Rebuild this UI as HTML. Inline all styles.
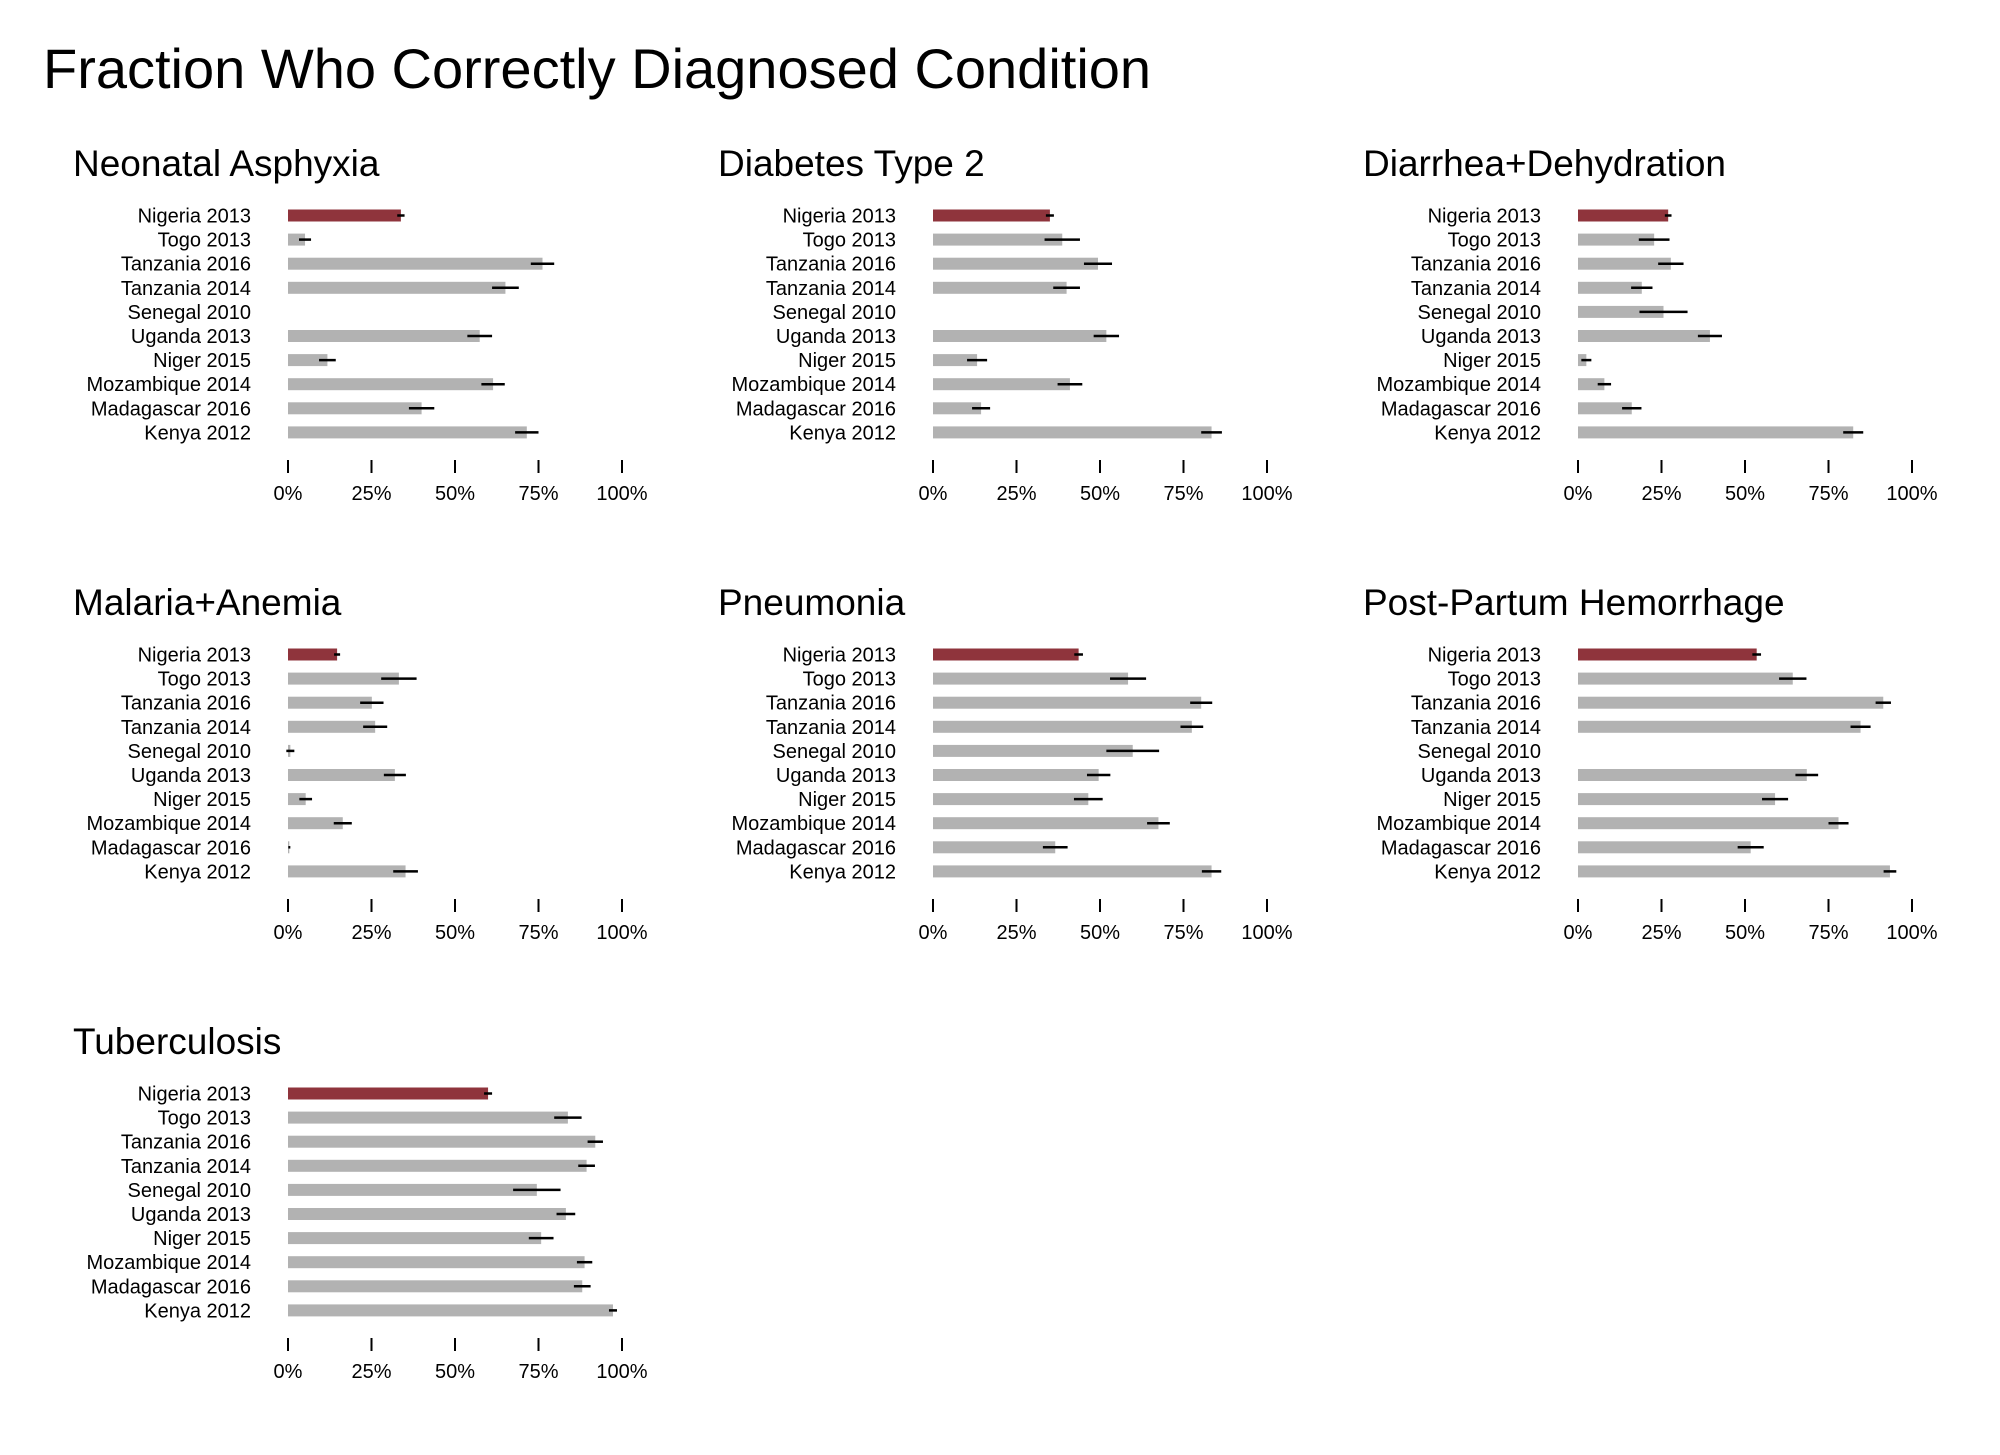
<!DOCTYPE html>
<html><head><meta charset="utf-8">
<style>
html,body{margin:0;padding:0;background:#fff;}
svg{display:block;font-family:"Liberation Sans",Arial,sans-serif;}
</style></head>
<body>
<svg id="chart" width="2000" height="1455" viewBox="0 0 2000 1455" xmlns="http://www.w3.org/2000/svg">
<rect x="0" y="0" width="2000" height="1455" fill="#fff"/>
<text x="43" y="88" font-size="56" fill="#000">Fraction Who Correctly Diagnosed Condition</text>
</svg>
<script>
const categories = ["Nigeria 2013","Togo 2013","Tanzania 2016","Tanzania 2014","Senegal 2010","Uganda 2013","Niger 2015","Mozambique 2014","Madagascar 2016","Kenya 2012"];
const panelTitles = ["Neonatal Asphyxia","Diabetes Type 2","Diarrhea+Dehydration","Malaria+Anemia","Pneumonia","Post-Partum Hemorrhage","Tuberculosis"];
const tickValues = [0,25,50,75,100];
const tickLabels = ["0%","25%","50%","75%","100%"];
const neonatalValues = [33.8,5.1,76.2,65.1,null,57.4,11.8,61.4,40,71.5];
const neonatalErr = [1.1,1.8,3.5,4,null,3.7,2.5,3.5,3.8,3.5];
const diabetesValues = [35,38.7,49.4,40,null,51.9,13.2,41,14.4,83.4];
const diabetesErr = [1.2,5.3,4.2,4,null,3.8,3,3.7,2.7,3.1];
const diarrheaValues = [27,22.8,27.8,19.1,25.6,39.5,2.5,7.9,16.1,82.4];
const diarrheaErr = [1,4.6,3.8,3.2,7.2,3.6,1.5,2,2.9,3];
const malariaValues = [14.7,33.2,25.1,26.1,0.7,32,5.3,16.4,0.4,35.2];
const malariaErr = [0.9,5.3,3.5,3.6,1.2,3.3,1.9,2.7,0.3,3.7];
const pneumoniaValues = [43.6,58.4,80.3,77.5,59.8,49.6,46.5,67.5,36.6,83.4];
const pneumoniaErr = [1.3,5.4,3.3,3.4,7.9,3.5,4.3,3.4,3.7,2.9];
const pphValues = [53.5,64.3,91.4,84.6,null,68.5,59,78,51.7,93.4];
const pphErr = [1.3,4.1,2.3,3,null,3.4,3.9,3,3.9,1.9];
const tbValues = [59.9,83.8,92,89.4,74.5,83.2,75.8,88.8,88.1,97.3];
const tbErr = [1.2,4.1,2.3,2.5,7.1,2.8,3.7,2.3,2.5,1.2];

const panelValues = [neonatalValues,diabetesValues,diarrheaValues,malariaValues,pneumoniaValues,pphValues,tbValues];
const panelErrs = [neonatalErr,diabetesErr,diarrheaErr,malariaErr,pneumoniaErr,pphErr,tbErr];
const panelSlugs = ["neonatal-asphyxia","diabetes-type-2","diarrhea-dehydration","malaria-anemia","pneumonia","post-partum-hemorrhage","tuberculosis"];

const NS = "http://www.w3.org/2000/svg";
const svg = document.getElementById("chart");
function mk(tag, attrs, parent){
  const e = document.createElementNS(NS, tag);
  for (const k in attrs) e.setAttribute(k, attrs[k]);
  parent.appendChild(e);
  return e;
}
const COL_DX = 645, ROW_DY = 439, X0 = 288, XW = 334, Y0 = 215.5, ROW_H = 24.1, BAR_H = 12;

panelTitles.forEach((title, p) => {
  const col = p % 3, row = Math.floor(p / 3);
  const ox = col * COL_DX, oy = row * ROW_DY;
  const xs = v => X0 + ox + v / 100 * XW;
  const ys = i => Y0 + oy + i * ROW_H;
  const g = mk("g", {}, svg);
  
  
  const t = mk("text", {x: 73 + ox, y: 176 + oy, "font-size": 37, fill: "#000"}, g);
  t.textContent = title;
  
  
  categories.forEach((c, i) => {
    const lab = mk("text", {x: 251 + ox, y: ys(i) + 7, "font-size": 20, "text-anchor": "end", fill: "#000"}, g);
    lab.textContent = c;
    
    
    const v = panelValues[p][i];
    if (v === null) return;
    const bar = mk("rect", {x: xs(0), y: ys(i) - BAR_H/2, width: xs(v) - xs(0), height: BAR_H, fill: i === 0 ? "#8f343c" : "#b2b2b2"}, g);
    
    
    const e = panelErrs[p][i];
    const eb = mk("line", {x1: xs(v - e), x2: xs(v + e), y1: ys(i), y2: ys(i), stroke: "#000", "stroke-width": 2.5}, g);
    
    
  });
  tickValues.forEach((tv, k) => {
    const tk = mk("line", {x1: xs(tv), x2: xs(tv), y1: 460 + oy, y2: 473 + oy, stroke: "#000", "stroke-width": 2}, g);
    
    
    const tl = mk("text", {x: xs(tv), y: 500 + oy, "font-size": 20, "text-anchor": "middle", fill: "#000"}, g);
    tl.textContent = tickLabels[k];
    
    
  });
});
</script>
</body></html>
